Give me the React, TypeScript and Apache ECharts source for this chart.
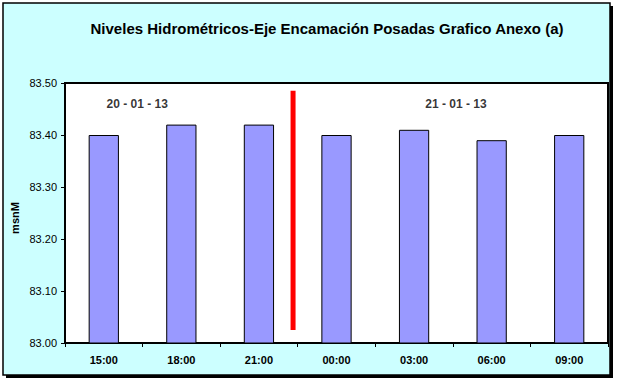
import React, { useEffect, useRef } from "react";
import * as echarts from "echarts";

const categories = ["15:00", "18:00", "21:00", "00:00", "03:00", "06:00", "09:00"];
const levels = [83.4, 83.42, 83.42, 83.4, 83.41, 83.39, 83.4];
const yTicks = { min: 83.0, max: 83.5, interval: 0.1 };
const separatorLine = [[2.94, 83.485], [2.94, 83.025]];
const dateLabels = [
  { x: 0.93, y: 83.46, text: "20 - 01 - 13" },
  { x: 5.04, y: 83.46, text: "21 - 01 - 13" },
];
const titleText = "Niveles Hidrométricos-Eje Encamación Posadas Grafico Anexo (a)";

export default function App() {
  const ref = useRef<HTMLDivElement>(null);
  useEffect(() => {
    const chart = echarts.init(ref.current!, null, { renderer: "svg" });
    const font = "'Liberation Sans', Arial, sans-serif";
    chart.setOption({
      animation: false,
      backgroundColor: "#ffffff",
      textStyle: { fontFamily: font },
      graphic: [
        { type: "rect", z: -10, silent: true, shape: { x: 6, y: 6, width: 607, height: 372 }, style: { fill: "#000" } },
        { type: "rect", z: -9, silent: true, shape: { x: 3, y: 3, width: 607, height: 372 }, style: { fill: "#CCFFFF", stroke: "#000", lineWidth: 1.5 } },
        {
          type: "text", z: 10, x: 327, y: 28,
          style: { text: titleText, fontFamily: font, fontSize: 15, fontWeight: "bold", fill: "#000", align: "center", verticalAlign: "middle" },
        },
        {
          type: "text", z: 10, x: 15, y: 218, rotation: Math.PI / 2,
          style: { text: "msnM", fontFamily: font, fontSize: 11, fontWeight: "bold", fill: "#000", align: "center", verticalAlign: "middle" },
        },
      ],
      grid: {
        left: 65, top: 83, width: 543, height: 260,
        show: true, backgroundColor: "#ffffff", borderColor: "#000", borderWidth: 2, z: 1,
      },
      xAxis: [
        {
          type: "category", data: categories,
          axisLine: { lineStyle: { color: "#000", width: 1.5 } },
          axisTick: { show: true, inside: false, length: 4, alignWithLabel: false, lineStyle: { color: "#000" } },
          axisLabel: { color: "#000", fontSize: 11, fontWeight: "bold", margin: 11, fontFamily: font },
          splitLine: { show: false },
        },
        { type: "value", min: 0, max: 7, show: false },
      ],
      yAxis: {
        type: "value", min: yTicks.min, max: yTicks.max, interval: yTicks.interval,
        axisLine: { show: true, lineStyle: { color: "#000", width: 1.5 } },
        axisTick: { show: true, inside: false, length: 4, lineStyle: { color: "#000" } },
        axisLabel: { color: "#000", fontSize: 11, margin: 8, fontFamily: font, formatter: (v: number) => v.toFixed(2) },
        splitLine: { show: true, lineStyle: { color: "#000", width: 1 } },
      },
      series: [
        {
          type: "bar", data: levels, xAxisIndex: 0, barCategoryGap: "61%", z: 3,
          itemStyle: { color: "#9999FF", borderColor: "#000", borderWidth: 1 },
        },
        {
          type: "line", xAxisIndex: 1, data: separatorLine, symbol: "none", z: 5,
          lineStyle: { color: "#FF0000", width: 5, cap: "butt" },
        },
        {
          type: "scatter", xAxisIndex: 1, symbolSize: 0, z: 6,
          data: dateLabels.map((d) => ({ value: [d.x, d.y], name: d.text })),
          label: {
            show: true, position: "inside", formatter: (p: any) => p.name,
            color: "#000", fontSize: 12, fontWeight: "bold", fontFamily: font,
          },
        },
      ],
    });
    return () => chart.dispose();
  }, []);
  return <div ref={ref} style={{ position: "absolute", left: 0, top: 0, width: 619, height: 383 }} />;
}
